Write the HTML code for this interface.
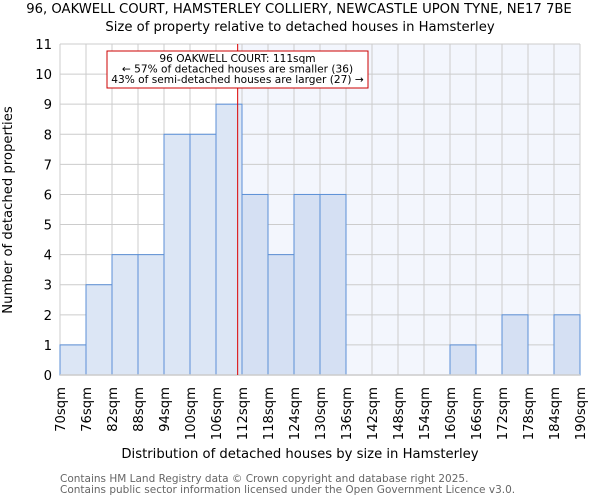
<!DOCTYPE html>
<html><head><meta charset="utf-8"><style>
body{margin:0;background:#fff;font-family:"DejaVu Sans","Liberation Sans",sans-serif}
</style></head><body>
<svg id="c" width="600" height="500" xmlns="http://www.w3.org/2000/svg" font-family="DejaVu Sans, Liberation Sans, sans-serif">
<text x="299" y="13" text-anchor="middle" font-size="13.2">96, OAKWELL COURT, HAMSTERLEY COLLIERY, NEWCASTLE UPON TYNE, NE17 7BE</text>
<text x="300" y="31" text-anchor="middle" font-size="13.2">Size of property relative to detached houses in Hamsterley</text>
<g id="plot"></g>
<text x="300" y="458" text-anchor="middle" font-size="13.2">Distribution of detached houses by size in Hamsterley</text>
<text transform="translate(12,210) rotate(-90)" text-anchor="middle" font-size="13.2">Number of detached properties</text>
<text x="60" y="482" font-size="10.5" fill="#666">Contains HM Land Registry data © Crown copyright and database right 2025.</text>
<text x="60" y="493" font-size="10.5" fill="#666">Contains public sector information licensed under the Open Government Licence v3.0.</text>
</svg>
<script>
const binStarts=[70,76,82,88,94,100,106,112,118,124,130,136,142,148,154,160,166,172,178,184];
const counts=[1,3,4,4,8,8,9,6,4,6,6,0,0,0,0,1,0,2,0,2];
const tickLabels=["70sqm","76sqm","82sqm","88sqm","94sqm","100sqm","106sqm","112sqm","118sqm","124sqm","130sqm","136sqm","142sqm","148sqm","154sqm","160sqm","166sqm","172sqm","178sqm","184sqm","190sqm"];
const yTicks=[0,1,2,3,4,5,6,7,8,9,10,11];
const propertySize=111;
const ns="http://www.w3.org/2000/svg";
const X0=60,X1=580,Y0=375,Y1=44,xmin=70,xmax=190,ymax=11;
const xs=v=>X0+(v-xmin)/(xmax-xmin)*(X1-X0);
const ys=v=>Y0-v/ymax*(Y0-Y1);
const g=document.getElementById('plot');
function mk(t,a){const e=document.createElementNS(ns,t);for(const k in a)e.setAttribute(k,a[k]);g.appendChild(e);return e;}
const px=xs(propertySize);
const bg=mk('rect',{x:px,y:Y1,width:X1-px,height:Y0-Y1,fill:'#f3f6fd'});


yTicks.forEach(t=>{const l=mk('line',{x1:X0,x2:X1,y1:ys(t),y2:ys(t),stroke:'#ccc','stroke-width':1});


const tx=mk('text',{x:X0-8,y:ys(t)+5,'text-anchor':'end','font-size':13.2});tx.textContent=t;

});
tickLabels.forEach((lab,i)=>{const v=xmin+i*6;const l=mk('line',{x1:xs(v),x2:xs(v),y1:Y1,y2:Y0,stroke:'#ccc','stroke-width':1});


const tx=mk('text',{transform:`translate(${xs(v)+5},387) rotate(-90)`,'text-anchor':'end','font-size':13.2});tx.textContent=lab;

});
binStarts.forEach((b,i)=>{if(!counts[i])return;const r=mk('rect',{x:xs(b),y:ys(counts[i]),width:xs(b+6)-xs(b),height:Y0-ys(counts[i]),fill:b<propertySize?'#dce6f5':'#d5e0f3',stroke:'#5b8fd6','stroke-width':1});

});
const ax=mk('line',{x1:X0,x2:X1,y1:Y0,y2:Y0,stroke:'#ccc','stroke-width':1.5});


const rl=mk('line',{x1:px,x2:px,y1:Y1,y2:Y0,stroke:'#dd0000','stroke-width':1});


const box=mk('rect',{x:107,y:51,width:261,height:37,fill:'#fff',stroke:'#cc0000','stroke-width':1});


["96 OAKWELL COURT: 111sqm","← 57% of detached houses are smaller (36)","43% of semi-detached houses are larger (27) →"].forEach((s,i)=>{const t=mk('text',{x:237.5,y:62+i*10.5,'text-anchor':'middle','font-size':10.6,textLength:i==0?0:null});t.removeAttribute('textLength');t.textContent=s;

});
</script>
</body></html>
